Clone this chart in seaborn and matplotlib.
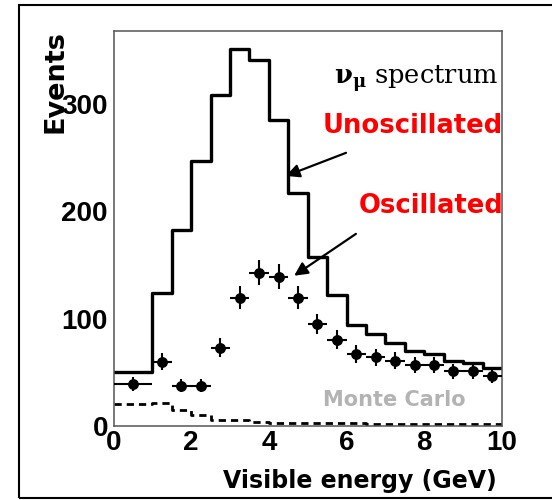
import numpy as np
import pandas as pd
import matplotlib
matplotlib.use("Agg")
import matplotlib.pyplot as plt
from matplotlib.patches import Rectangle
import seaborn as sns

# Bin edges of the visible-energy spectrum (GeV)
bin_edges = [0, 1, 1.5, 2, 2.5, 3, 3.5, 4, 4.5, 5, 5.5, 6, 6.5, 7, 7.5, 8, 8.5, 9, 9.5, 10]

# Expected events without oscillation (solid histogram)
unoscillated = [50, 124, 183, 247, 308, 351, 341, 285, 217, 157, 122, 94, 86, 77, 70, 67.5, 61, 59, 54.5]

# Oscillated Monte Carlo sample (points with errors)
oscillated = [39, 60, 37.5, 37.5, 73, 119.5, 143, 139, 119.5, 95, 80.5, 67, 64, 61, 57, 57, 51, 51, 47]

# Neutral-current background (dashed histogram)
background = [20.5, 21.7, 15, 10.2, 5.6, 5.6, 4.0, 3.1, 2.5, 2.5, 2.5, 2.5, 1.5, 1.5, 1.5, 1.5, 1.5, 1.5, 1.5]

x_ticks = [0, 2, 4, 6, 8, 10]
y_ticks = [0, 100, 200, 300]

W, H = 552, 500
sns.set_style("white")
plt.rcParams["font.family"] = ["DejaVu Sans"]
plt.rcParams["mathtext.fontset"] = "dejavuserif"

edges = np.array(bin_edges, dtype=float)
centers = 0.5 * (edges[:-1] + edges[1:])
halfw = 0.5 * np.diff(edges)
points = pd.DataFrame({"E": centers, "osc": oscillated})

# Step outlines: each bin value held from its left edge up to the last edge
steps = pd.DataFrame({
    "E": edges,
    "unosc": list(unoscillated) + [unoscillated[-1]],
    "bkg": list(background) + [background[-1]],
})

fig = plt.figure(figsize=(W / 100, H / 100), dpi=100)
ax = fig.add_axes([113.5 / W, 1 - 426 / H, 388.5 / W, 395 / H])


def fx(px):
    return px / W


def fy(py):
    return 1 - py / H


sns.lineplot(data=steps, x="E", y="unosc", drawstyle="steps-post", color="black",
             linewidth=2.4, estimator=None, sort=False, ax=ax)
sns.lineplot(data=steps, x="E", y="bkg", drawstyle="steps-post", color="black",
             linewidth=2.0, linestyle=(0, (2.6, 1.8)), estimator=None, sort=False, ax=ax)
ax.errorbar(points["E"], points["osc"], xerr=halfw, yerr=np.sqrt(points["osc"]), fmt="o",
            ms=6.8, color="black", elinewidth=1.5, capsize=0, zorder=5)

ax.set_xlim(0, 10)
ax.set_ylim(0, 368)
ax.set_xticks(x_ticks)
ax.set_yticks(y_ticks)
ax.set_xlabel("")
ax.set_ylabel("")
for lab in ax.get_xticklabels() + ax.get_yticklabels():
    lab.set_fontfamily("Liberation Sans")
    lab.set_fontweight("bold")
    lab.set_fontsize(20)
    lab.set_color("black")
ax.tick_params(axis="both", direction="in", length=9.4, width=1.1, color="#444444")
ax.tick_params(axis="x", pad=3)
ax.tick_params(axis="y", pad=4)
for sp in ax.spines.values():
    sp.set_color("#555555")
    sp.set_linewidth(1.1)
    sp.set_visible(True)

# Arrows pointing to the two spectra
arrow = dict(arrowstyle="-|>", mutation_scale=20, lw=1.6, color="black", shrinkA=0, shrinkB=0)
ax.annotate("", xy=(4.44, 233), xytext=(5.985, 254.5), arrowprops=arrow)
ax.annotate("", xy=(4.65, 140), xytext=(6.24, 179), arrowprops=arrow)

# Labels
fig.text(fx(498), fy(84), r"$\mathbf{\nu_{\mu}}$ spectrum", ha="right", va="baseline",
         fontsize=18.5, family="DejaVu Serif", color="black")
fig.text(fx(503), fy(133), "Unoscillated", ha="right", va="baseline",
         fontsize=18.6, fontweight="bold", color="#ff0000")
fig.text(fx(503), fy(213), "Oscillated", ha="right", va="baseline",
         fontsize=18.6, fontweight="bold", color="#ff0000")
fig.text(fx(323), fy(406), "Monte Carlo", ha="left", va="baseline",
         fontsize=15, fontweight="bold", color="#b3b3b3")

fig.text(fx(497), fy(488), "Visible energy (GeV)", ha="right", va="baseline",
         fontsize=17, fontweight="bold", color="black")
fig.text(fx(63), fy(30), "Events", rotation=90, rotation_mode="anchor", ha="right",
         va="baseline", fontsize=19.5, fontweight="bold", color="black")

# Outer frame
fig.add_artist(Rectangle((fx(19), fy(498)), 1.2, fy(5) - fy(498), transform=fig.transFigure,
                         fill=False, edgecolor="black", linewidth=1.5))

fig.savefig("out.png", dpi=100)
